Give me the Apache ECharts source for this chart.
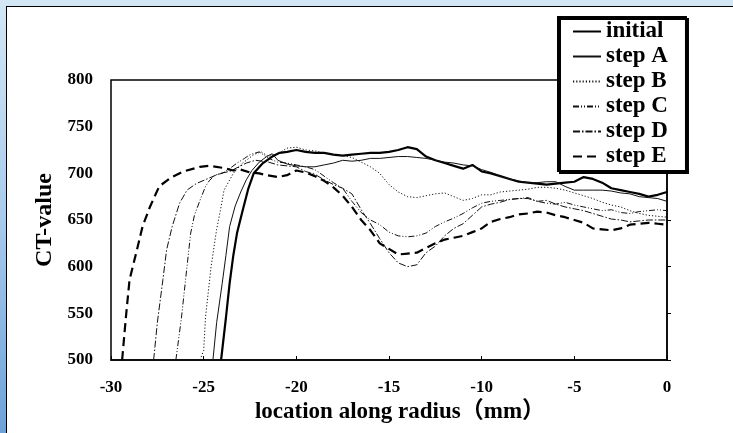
<!DOCTYPE html>
<html>
<head>
<meta charset="utf-8">
<script src="https://cdn.jsdelivr.net/npm/echarts@6/dist/echarts.min.js"></script>
<style>
html,body{margin:0;padding:0;width:733px;height:433px;overflow:hidden;}
html{background:#d3e7f5;}
body{background:linear-gradient(to bottom,#d3e7f5 0%,#a9cbec 50%,#6da2da 100%);position:relative;}
#panel{position:absolute;left:6px;top:6px;right:-40px;bottom:-40px;background:#fff;border-left:1.5px solid #000;border-top:1.5px solid #000;}
#chart{position:absolute;left:0;top:0;width:733px;height:433px;}
</style>
</head>
<body>
<div id="panel"></div>
<div id="chart"></div>
<script>
// ---- data ----
const seriesNames = ['initial', 'step A', 'step B', 'step C', 'step D', 'step E'];
const xTicks = [-30, -25, -20, -15, -10, -5, 0];
const yTicks = [500, 550, 600, 650, 700, 750, 800];

const initialX = [-24.06,-23.8,-23.6,-23.4,-23.2,-22.9,-22.6,-22.3,-21.8,-21.3,-20.9,-20.5,-20,-19.5,-19,-18.5,-18,-17.5,-17,-16.5,-16,-15.5,-15,-14.5,-14,-13.5,-13,-12.5,-12,-11.5,-11,-10.5,-10,-9.5,-9,-8.5,-8,-7.5,-7,-6.5,-6,-5.5,-5,-4.5,-4,-3.5,-3,-2.5,-2,-1.5,-1,-0.5,0];
const initialY = [500,545,582,612,636,660,683,700,711,718,722,723,725,723,722,722,720,719,720,721,722,722,723,725,728,726,718,714,711,708,705,709,702,700,697,694,691,690,689,688,689,690,691,696,694,690,684,682,680,678,675,677,680];

const stepAX = [-24.5,-24.3,-24.0,-23.8,-23.6,-23.3,-23.0,-22.7,-22.4,-22.0,-21.6,-21.3,-21,-20.5,-20,-19.5,-19,-18.5,-18,-17.5,-17,-16.5,-16,-15.5,-15,-14.5,-14,-13.5,-13,-12.5,-12,-11.5,-11,-10.5,-10,-9.5,-9,-8.5,-8,-7.5,-7,-6.5,-6,-5.5,-5,-4.5,-4,-3.5,-3,-2.5,-2,-1.5,-1,-0.5,0];
const stepAY = [500,540,582,612,643,665,680,693,703,712,718,721,714,710,708,707,707,709,711,714,713,714,716,716,717,718,718,717,716,714,712,711,709,708,704,701,697,694,692,690,690,691,691,686,682,682,682,682,681,679,678,675,674,673,670];

const stepBX = [-25.2,-25.0,-24.9,-24.6,-24.3,-24.1,-23.9,-23.4,-22.9,-22.3,-21.9,-21.5,-21,-20.5,-20,-19.5,-19,-18.5,-18,-17.5,-17,-16.5,-16,-15.5,-15,-14.5,-14,-13.5,-13,-12.5,-12,-11.5,-11,-10.5,-10,-9.5,-9,-8.5,-8,-7.5,-7,-6.5,-6,-5.5,-5,-4.5,-4,-3.5,-3,-2.5,-2,-1.5,-1,-0.5,0];
const stepBY = [500,510,546,600,640,660,682,700,711,720,723,718,721,727,728,725,724,722,720,719,717,712,707,700,688,680,675,674,676,678,679,675,671,673,677,677,680,681,682,683,685,685,684,682,679,676,673,669,666,664,660,657,655,654,653];

const stepCX = [-26.5,-26.2,-25.9,-25.7,-25.5,-25.2,-24.9,-24.7,-24.4,-24.0,-23.6,-23.2,-22.8,-22.5,-22,-21.5,-21,-20.5,-20,-19.5,-19,-18.5,-18,-17.5,-17,-16.5,-16,-15.5,-15,-14.5,-14,-13.5,-13,-12.5,-12,-11.5,-11,-10.5,-10,-9.5,-9,-8.5,-8,-7.5,-7,-6.5,-6,-5.5,-5,-4.5,-4,-3.5,-3,-2.5,-2,-1.5,-1,-0.5,0];
const stepCY = [500,545,600,636,655,671,686,692,698,700,705,711,716,720,723,716,712,711,709,707,704,697,690,684,670,658,650,645,637,633,632,633,636,643,648,652,657,663,668,670,671,672,673,674,670,668,667,669,666,664,662,660,661,658,657,659,660,661,660];

const stepDX = [-27.7,-27.5,-27.2,-27.0,-26.7,-26.3,-25.9,-25.4,-24.7,-24.1,-23.6,-23.2,-22.7,-22.2,-21.5,-21,-20.5,-20,-19.5,-19,-18.5,-18,-17.5,-17,-16.5,-16,-15.5,-15,-14.5,-14,-13.5,-13,-12.5,-12,-11.5,-11,-10.5,-10,-9.5,-9,-8.5,-8,-7.5,-7,-6.5,-6,-5.5,-5,-4.5,-4,-3.5,-3,-2.5,-2,-1.5,-1,-0.5,0];
const stepDY = [500,540,586,618,643,668,682,689,695,700,702,706,711,714,712,709,708,707,702,699,693,688,684,678,661,646,630,615,604,600,602,615,622,633,641,646,655,664,667,669,672,673,673,670,671,667,664,662,660,657,654,651,650,648,649,650,650,650];

const stepEX = [-29.4,-29.2,-29.0,-28.6,-28.3,-27.9,-27.4,-26.8,-26.1,-25.2,-24.7,-24,-23.4,-23,-22.5,-22,-21.6,-21,-20.5,-20,-19.5,-19,-18.5,-18,-17.5,-17,-16.5,-16,-15.5,-15,-14.5,-14,-13.5,-13,-12.5,-12,-11.5,-11,-10.5,-10,-9.5,-9,-8.5,-8,-7.5,-7,-6.5,-6,-5.5,-5,-4.5,-4,-3.5,-3,-2.5,-2,-1.5,-1,-0.5,0];
const stepEY = [500,545,586,618,643,664,686,695,702,707,708,706,703,704,701,700,698,696,698,703,701,697,692,685,676,664,650,639,625,619,613,614,615,620,625,629,631,633,637,641,648,651,653,656,657,659,658,655,653,650,647,641,640,639,641,645,646,647,646,645];

// ---- chart ----
const serif = "'Liberation Serif','Times New Roman','Noto Sans CJK JP',serif";
const pairs = (xs, ys) => xs.map((x, i) => [x, ys[i]]);
const seriesData = [
  pairs(initialX, initialY), pairs(stepAX, stepAY), pairs(stepBX, stepBY),
  pairs(stepCX, stepCY), pairs(stepDX, stepDY), pairs(stepEX, stepEY)
];
const lineStyles = [
  {color: '#000', width: 2.2, type: 'solid'},
  {color: '#111', width: 1, type: 'solid'},
  {color: '#111', width: 1, type: [1.2, 2]},
  {color: '#111', width: 1, type: [6, 2, 1, 2, 1, 2]},
  {color: '#111', width: 1, type: [7, 2, 1.5, 2]},
  {color: '#000', width: 2.2, type: [9, 5]}
];

const chart = echarts.init(document.getElementById('chart'), null, {renderer: 'canvas'});
chart.setOption({
  backgroundColor: 'transparent',
  animation: false,
  grid: {left: 111, right: 66, top: 80, bottom: 73, show: true, borderColor: '#000', borderWidth: 1.5, backgroundColor: 'transparent'},
  legend: {
    data: seriesNames,
    orient: 'vertical',
    left: 558, top: 17,
    itemWidth: 28, itemHeight: 14, itemGap: 2,
    padding: [3, 18, 3, 14],
    backgroundColor: '#fff',
    borderColor: '#000', borderWidth: 2,
    shadowColor: '#000', shadowBlur: 0, shadowOffsetX: 2, shadowOffsetY: 2,
    itemStyle: {opacity: 0},
    textStyle: {fontFamily: serif, fontWeight: 'bold', fontSize: 23, color: '#000'}
  },
  xAxis: {
    type: 'value', min: xTicks[0], max: xTicks[xTicks.length - 1], interval: 5,
    name: 'location along radius（mm）', nameLocation: 'middle', nameGap: 39,
    nameTextStyle: {fontFamily: serif, fontWeight: 'bold', fontSize: 23, color: '#000', padding: [0, 0, 0, 22]},
    axisLine: {show: true, lineStyle: {color: '#000', width: 1.5}},
    axisTick: {show: true, inside: true, length: 4, lineStyle: {color: '#000', width: 1}},
    axisLabel: {fontFamily: serif, fontWeight: 'bold', fontSize: 17, color: '#000', margin: 19},
    splitLine: {show: false}
  },
  yAxis: {
    type: 'value', min: yTicks[0], max: yTicks[yTicks.length - 1], interval: 50,
    name: 'CT-value', nameLocation: 'middle', nameGap: 52,
    nameTextStyle: {fontFamily: serif, fontWeight: 'bold', fontSize: 24, color: '#000'},
    axisLine: {show: true, lineStyle: {color: '#000', width: 1.5}},
    axisTick: {show: true, inside: true, length: 4, lineStyle: {color: '#000', width: 1}},
    axisLabel: {fontFamily: serif, fontWeight: 'bold', fontSize: 17, color: '#000', margin: 18},
    splitLine: {show: false}
  },
  series: seriesNames.map((name, i) => ({
    name, type: 'line', data: seriesData[i], symbol: 'none', showSymbol: false,
    smooth: false, lineStyle: lineStyles[i], itemStyle: {color: lineStyles[i].color}
  }))
});
</script>
</body>
</html>
